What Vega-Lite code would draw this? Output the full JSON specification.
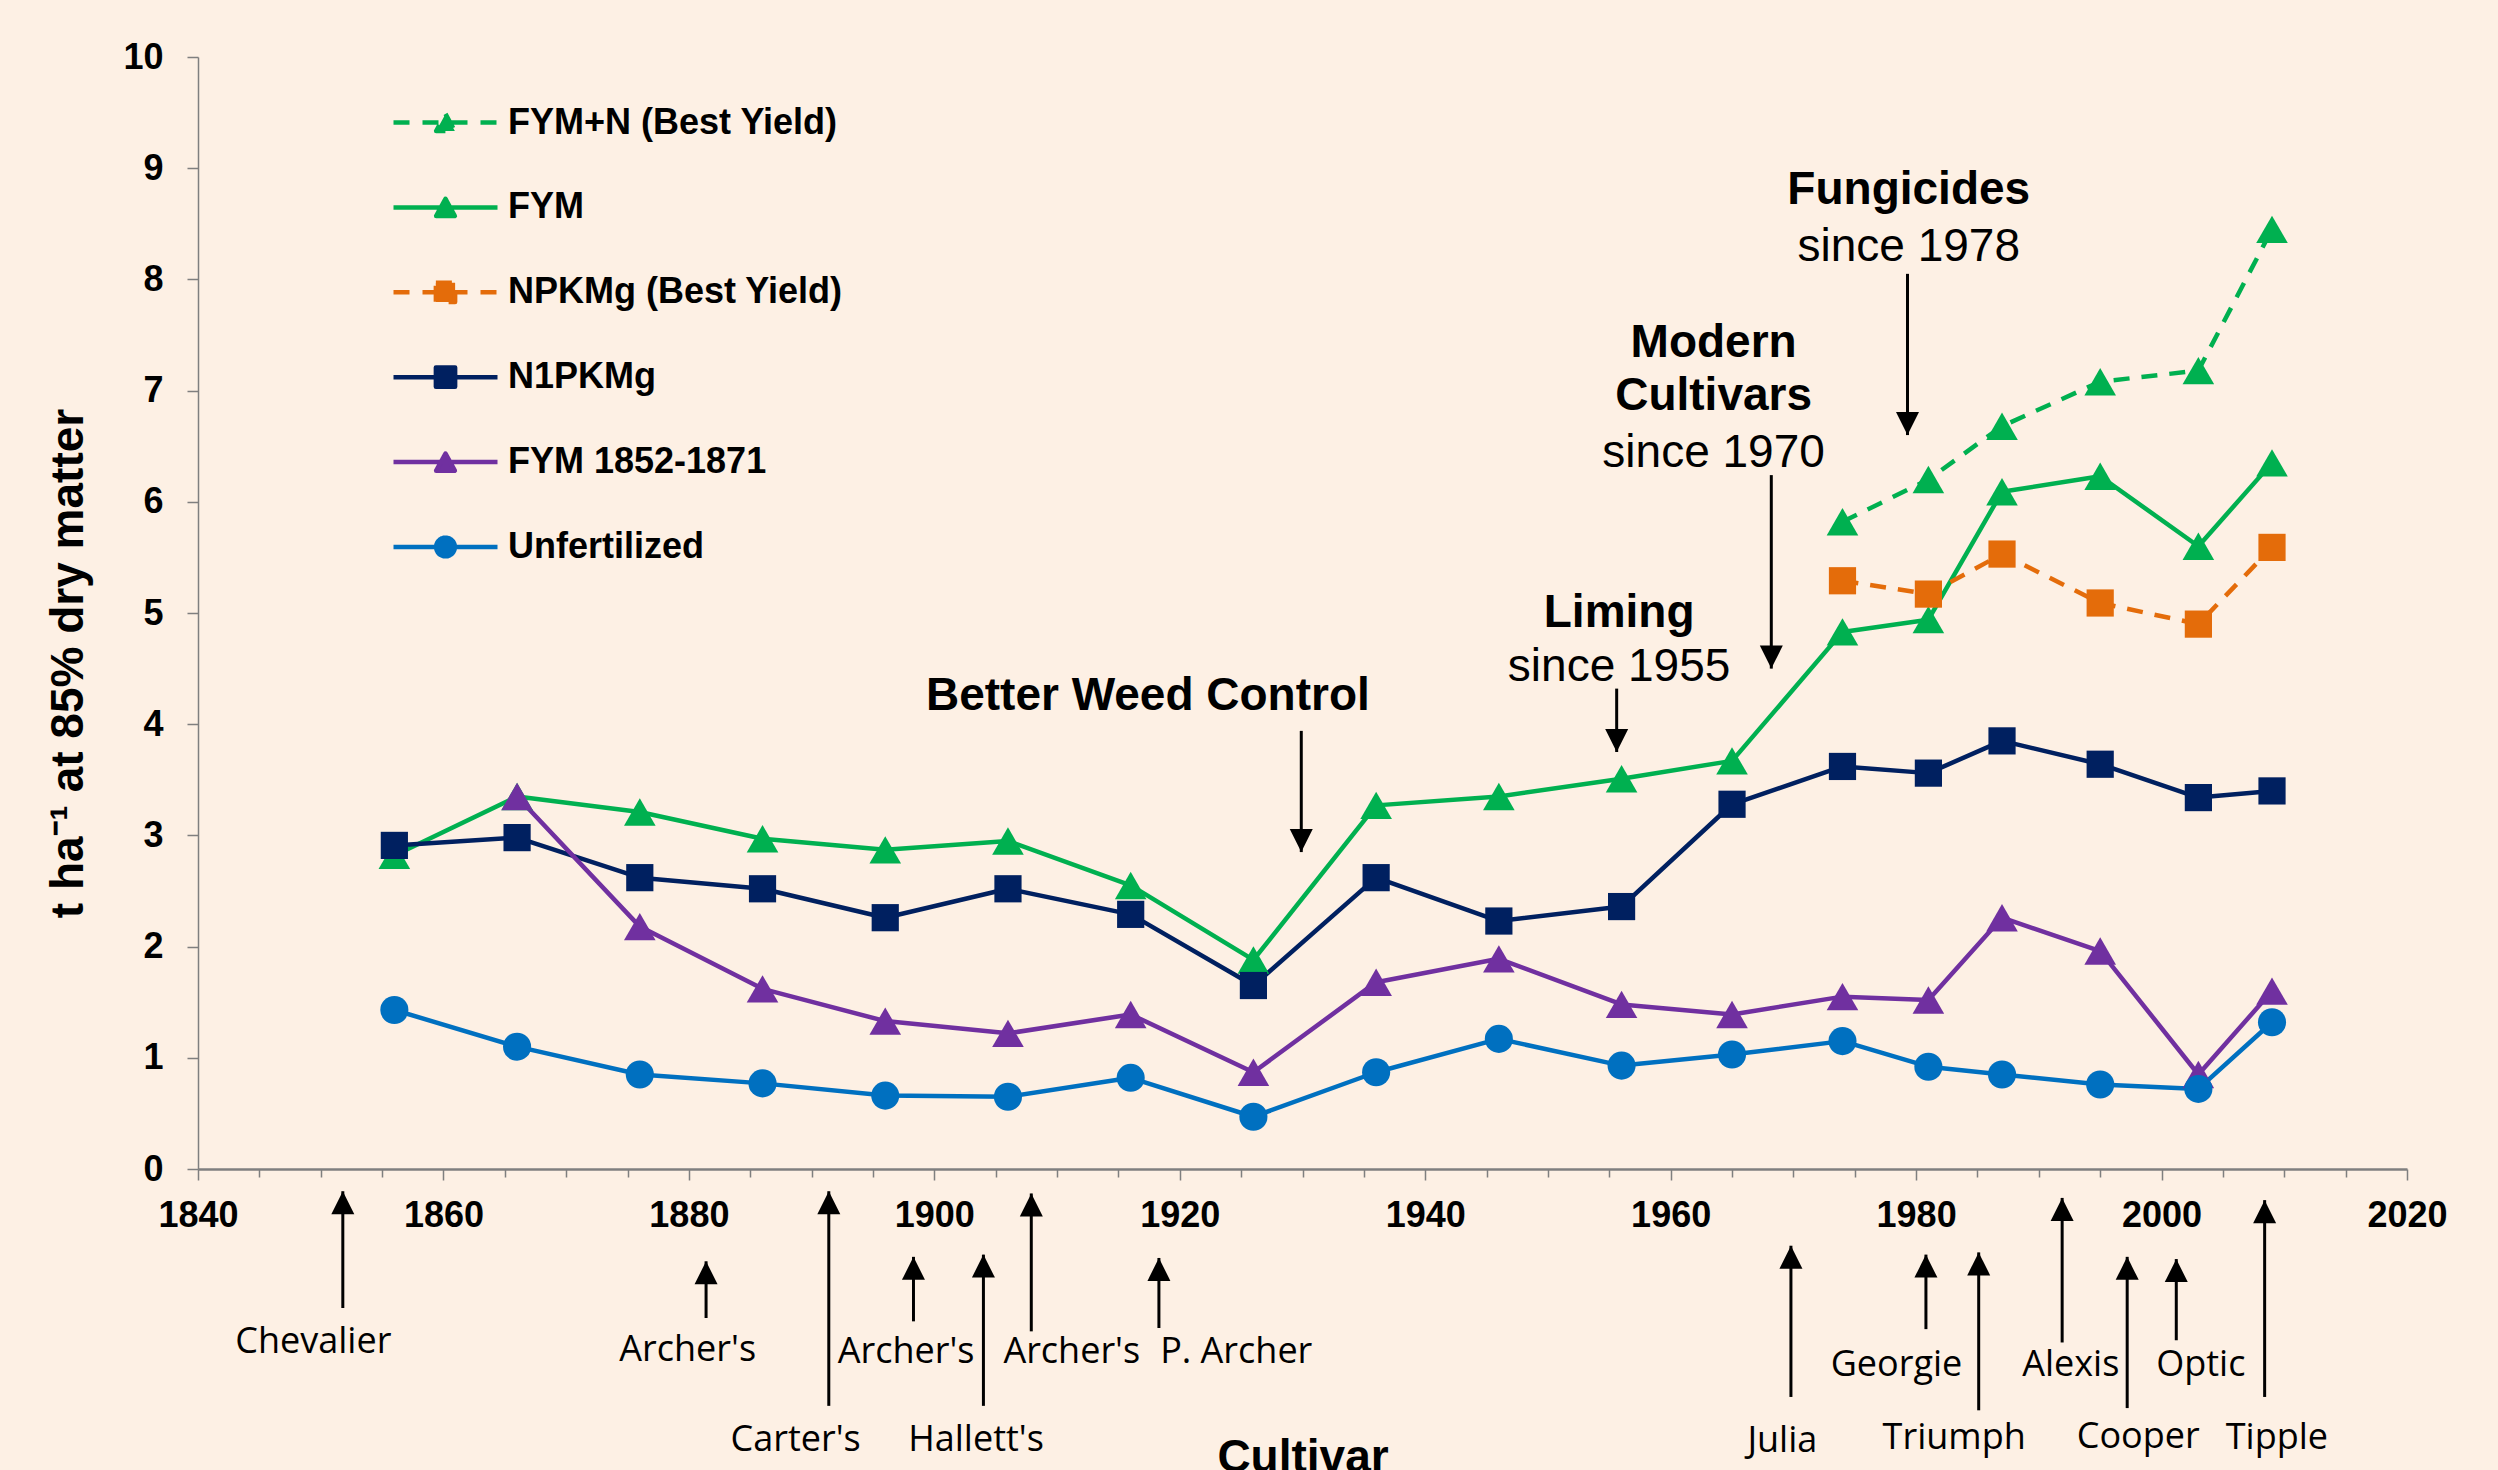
{
  "$schema": "https://vega.github.io/schema/vega-lite/v6.json",
  "width": 2209,
  "height": 1112,
  "autosize": {"type": "none"},
  "padding": {"left": 198, "top": 57, "right": 91, "bottom": 301},
  "background": "#FDF0E4",
  "config": {"view": {"stroke": null}, "font": "Liberation Sans"},
  "datasets": {
    "yields": [
      {"series": "FYM+N (Best Yield)", "year": 1974, "value": 5.82},
      {"series": "FYM+N (Best Yield)", "year": 1981, "value": 6.20},
      {"series": "FYM+N (Best Yield)", "year": 1987, "value": 6.68},
      {"series": "FYM+N (Best Yield)", "year": 1995, "value": 7.08},
      {"series": "FYM+N (Best Yield)", "year": 2003, "value": 7.18},
      {"series": "FYM+N (Best Yield)", "year": 2009, "value": 8.45},
      {"series": "FYM", "year": 1856, "value": 2.82},
      {"series": "FYM", "year": 1866, "value": 3.35},
      {"series": "FYM", "year": 1876, "value": 3.21},
      {"series": "FYM", "year": 1886, "value": 2.97},
      {"series": "FYM", "year": 1896, "value": 2.87},
      {"series": "FYM", "year": 1906, "value": 2.95},
      {"series": "FYM", "year": 1916, "value": 2.55},
      {"series": "FYM", "year": 1926, "value": 1.88},
      {"series": "FYM", "year": 1936, "value": 3.27},
      {"series": "FYM", "year": 1946, "value": 3.35},
      {"series": "FYM", "year": 1956, "value": 3.51},
      {"series": "FYM", "year": 1965, "value": 3.67},
      {"series": "FYM", "year": 1974, "value": 4.83},
      {"series": "FYM", "year": 1981, "value": 4.94},
      {"series": "FYM", "year": 1987, "value": 6.09},
      {"series": "FYM", "year": 1995, "value": 6.23},
      {"series": "FYM", "year": 2003, "value": 5.60},
      {"series": "FYM", "year": 2009, "value": 6.35},
      {"series": "NPKMg (Best Yield)", "year": 1974, "value": 5.29},
      {"series": "NPKMg (Best Yield)", "year": 1981, "value": 5.17},
      {"series": "NPKMg (Best Yield)", "year": 1987, "value": 5.53},
      {"series": "NPKMg (Best Yield)", "year": 1995, "value": 5.09},
      {"series": "NPKMg (Best Yield)", "year": 2003, "value": 4.90},
      {"series": "NPKMg (Best Yield)", "year": 2009, "value": 5.59},
      {"series": "N1PKMg", "year": 1856, "value": 2.91},
      {"series": "N1PKMg", "year": 1866, "value": 2.98},
      {"series": "N1PKMg", "year": 1876, "value": 2.62},
      {"series": "N1PKMg", "year": 1886, "value": 2.52},
      {"series": "N1PKMg", "year": 1896, "value": 2.26},
      {"series": "N1PKMg", "year": 1906, "value": 2.52},
      {"series": "N1PKMg", "year": 1916, "value": 2.29},
      {"series": "N1PKMg", "year": 1926, "value": 1.65},
      {"series": "N1PKMg", "year": 1936, "value": 2.62},
      {"series": "N1PKMg", "year": 1946, "value": 2.23},
      {"series": "N1PKMg", "year": 1956, "value": 2.36},
      {"series": "N1PKMg", "year": 1965, "value": 3.28},
      {"series": "N1PKMg", "year": 1974, "value": 3.62},
      {"series": "N1PKMg", "year": 1981, "value": 3.56},
      {"series": "N1PKMg", "year": 1987, "value": 3.85},
      {"series": "N1PKMg", "year": 1995, "value": 3.64},
      {"series": "N1PKMg", "year": 2003, "value": 3.34},
      {"series": "N1PKMg", "year": 2009, "value": 3.40},
      {"series": "FYM 1852-1871", "year": 1866, "value": 3.35},
      {"series": "FYM 1852-1871", "year": 1876, "value": 2.18},
      {"series": "FYM 1852-1871", "year": 1886, "value": 1.62},
      {"series": "FYM 1852-1871", "year": 1896, "value": 1.33},
      {"series": "FYM 1852-1871", "year": 1906, "value": 1.22},
      {"series": "FYM 1852-1871", "year": 1916, "value": 1.39},
      {"series": "FYM 1852-1871", "year": 1926, "value": 0.87},
      {"series": "FYM 1852-1871", "year": 1936, "value": 1.68},
      {"series": "FYM 1852-1871", "year": 1946, "value": 1.89},
      {"series": "FYM 1852-1871", "year": 1956, "value": 1.48},
      {"series": "FYM 1852-1871", "year": 1965, "value": 1.39},
      {"series": "FYM 1852-1871", "year": 1974, "value": 1.55},
      {"series": "FYM 1852-1871", "year": 1981, "value": 1.52},
      {"series": "FYM 1852-1871", "year": 1987, "value": 2.26},
      {"series": "FYM 1852-1871", "year": 1995, "value": 1.96},
      {"series": "FYM 1852-1871", "year": 2003, "value": 0.85},
      {"series": "FYM 1852-1871", "year": 2009, "value": 1.60},
      {"series": "Unfertilized", "year": 1856, "value": 1.43},
      {"series": "Unfertilized", "year": 1866, "value": 1.10},
      {"series": "Unfertilized", "year": 1876, "value": 0.85},
      {"series": "Unfertilized", "year": 1886, "value": 0.77},
      {"series": "Unfertilized", "year": 1896, "value": 0.66},
      {"series": "Unfertilized", "year": 1906, "value": 0.65},
      {"series": "Unfertilized", "year": 1916, "value": 0.82},
      {"series": "Unfertilized", "year": 1926, "value": 0.47},
      {"series": "Unfertilized", "year": 1936, "value": 0.87},
      {"series": "Unfertilized", "year": 1946, "value": 1.17},
      {"series": "Unfertilized", "year": 1956, "value": 0.93},
      {"series": "Unfertilized", "year": 1965, "value": 1.03},
      {"series": "Unfertilized", "year": 1974, "value": 1.15},
      {"series": "Unfertilized", "year": 1981, "value": 0.92},
      {"series": "Unfertilized", "year": 1987, "value": 0.85},
      {"series": "Unfertilized", "year": 1995, "value": 0.76},
      {"series": "Unfertilized", "year": 2003, "value": 0.72},
      {"series": "Unfertilized", "year": 2009, "value": 1.32}
    ],
    "headlines": [
      {"text": "Better Weed Control", "year": 1917.4, "value": 4.25},
      {"text": "Liming", "year": 1955.8, "value": 5.0},
      {"text": "Modern", "year": 1963.5, "value": 7.43},
      {"text": "Cultivars", "year": 1963.5, "value": 6.95},
      {"text": "Fungicides", "year": 1979.4, "value": 8.8}
    ],
    "sublines": [
      {"text": "since 1955", "year": 1955.8, "value": 4.51},
      {"text": "since 1970", "year": 1963.5, "value": 6.44},
      {"text": "since 1978", "year": 1979.4, "value": 8.29}
    ],
    "events": [
      {"year": 1929.9, "from": 3.94, "to": 2.85},
      {"year": 1955.6, "from": 4.32, "to": 3.75},
      {"year": 1968.2, "from": 6.24, "to": 4.5},
      {"year": 1979.3, "from": 8.05, "to": 6.6}
    ],
    "cultivars": [
      {"cultivar": "Chevalier", "year": 1851.8, "tip": -0.2, "tail": -1.25, "labelYear": 1849.4, "labelValue": -1.56},
      {"cultivar": "Archer's", "year": 1881.4, "tip": -0.83, "tail": -1.34, "labelYear": 1879.9, "labelValue": -1.63},
      {"cultivar": "Carter's", "year": 1891.4, "tip": -0.2, "tail": -2.13, "labelYear": 1888.7, "labelValue": -2.44},
      {"cultivar": "Archer's", "year": 1898.3, "tip": -0.79, "tail": -1.37, "labelYear": 1897.7, "labelValue": -1.65},
      {"cultivar": "Hallett's", "year": 1904.0, "tip": -0.77, "tail": -2.13, "labelYear": 1903.4, "labelValue": -2.44},
      {"cultivar": "Archer's", "year": 1907.9, "tip": -0.22, "tail": -1.46, "labelYear": 1911.2, "labelValue": -1.65},
      {"cultivar": "P. Archer", "year": 1918.3, "tip": -0.8, "tail": -1.43, "labelYear": 1924.6, "labelValue": -1.65},
      {"cultivar": "Julia", "year": 1969.8, "tip": -0.69, "tail": -2.05, "labelYear": 1969.1, "labelValue": -2.45},
      {"cultivar": "Georgie", "year": 1980.8, "tip": -0.77, "tail": -1.44, "labelYear": 1978.4, "labelValue": -1.76},
      {"cultivar": "Triumph", "year": 1985.1, "tip": -0.75, "tail": -2.17, "labelYear": 1983.1, "labelValue": -2.42},
      {"cultivar": "Alexis", "year": 1991.9, "tip": -0.26, "tail": -1.56, "labelYear": 1992.6, "labelValue": -1.76},
      {"cultivar": "Cooper", "year": 1997.2, "tip": -0.79, "tail": -2.15, "labelYear": 1998.1, "labelValue": -2.41},
      {"cultivar": "Optic", "year": 2001.2, "tip": -0.81, "tail": -1.54, "labelYear": 2003.2, "labelValue": -1.76},
      {"cultivar": "Tipple", "year": 2008.4, "tip": -0.28, "tail": -2.05, "labelYear": 2009.4, "labelValue": -2.42}
    ]
  },
  "layer": [
    {
      "data": {"name": "yields"},
      "encoding": {
        "x": {
          "field": "year", "type": "quantitative",
          "scale": {"domain": [1840, 2020], "nice": false, "zero": false},
          "axis": {
            "values": [1840,1845,1850,1855,1860,1865,1870,1875,1880,1885,1890,1895,1900,1905,1910,1915,1920,1925,1930,1935,1940,1945,1950,1955,1960,1965,1970,1975,1980,1985,1990,1995,2000,2005,2010,2015,2020],
            "format": "d",
            "labelExpr": "datum.value % 20 === 0 ? datum.label : ''",
            "labelFont": "Liberation Sans", "labelFontWeight": "bold", "labelFontSize": 36, "labelColor": "#000000",
            "labelPadding": 18, "labelOverlap": false, "labelFlush": false, "labelBound": false,
            "tickSize": {"condition": {"test": "datum.value % 20 === 0", "value": 11}, "value": 8},
            "tickColor": "#7f7f7f", "tickWidth": 1.5,
            "domainColor": "#7f7f7f", "domainWidth": 2.5,
            "grid": false,
            "title": "Cultivar",
            "titleFont": "Liberation Sans", "titleFontWeight": "bold", "titleFontSize": 46, "titleColor": "#000000",
            "titleY": 302, "titleBaseline": "alphabetic"
          }
        },
        "y": {
          "field": "value", "type": "quantitative",
          "scale": {"domain": [0, 10], "nice": false, "zero": true},
          "axis": {
            "values": [0,1,2,3,4,5,6,7,8,9,10],
            "format": "d",
            "labelFont": "Liberation Sans", "labelFontWeight": "bold", "labelFontSize": 36, "labelColor": "#000000",
            "labelPadding": 24,
            "tickSize": 11, "tickColor": "#7f7f7f", "tickWidth": 1.5,
            "domainColor": "#7f7f7f", "domainWidth": 1.5,
            "grid": false,
            "title": "t ha⁻¹ at 85% dry matter",
            "titleFont": "Liberation Sans", "titleFontWeight": "bold", "titleFontSize": 46, "titleColor": "#000000",
            "titleAngle": -90, "titleX": -116, "titleY": 606, "titleBaseline": "alphabetic", "titleAlign": "center"
          }
        },
        "color": {
          "field": "series", "type": "nominal",
          "scale": {
            "domain": ["FYM+N (Best Yield)", "FYM", "NPKMg (Best Yield)", "N1PKMg", "FYM 1852-1871", "Unfertilized"],
            "range": ["#00B050", "#00B050", "#E46C0A", "#002060", "#7030A0", "#0070C0"]
          },
          "legend": {
            "orient": "none", "legendX": 219, "legendY": 37, "title": null, "padding": 0,
            "labelFont": "Liberation Sans", "labelFontWeight": "bold", "labelFontSize": 36, "labelColor": "#000000",
            "labelLimit": 0, "labelOffset": 34,
            "symbolSize": 2704, "symbolStrokeWidth": 4.5, "symbolOffset": 0, "rowPadding": 37.9,
            "encode": {
              "symbols": {
                "update": {
                  "shape": {"signal": "datum.value === 'Unfertilized' ? 'M-2,0H2M0.36,0A0.36,0.36,0,1,1,-0.36,0A0.36,0.36,0,1,1,0.36,0Z' : ((datum.value === 'N1PKMg' || datum.value === 'NPKMg (Best Yield)') ? 'M-2,0H2M-0.37,-0.37H0.37V0.37H-0.37Z' : 'M-2,0H2M0,-0.33L0.36,0.33L-0.36,0.33Z')"},
                  "size": {"value": 2704},
                  "stroke": {"scale": "color", "field": "value"},
                  "fill": {"scale": "color", "field": "value"},
                  "strokeDash": {"signal": "(datum.value === 'FYM+N (Best Yield)' || datum.value === 'NPKMg (Best Yield)') ? [16, 13] : [1, 0]"},
                  "strokeWidth": {"value": 4.5},
                  "strokeJoin": {"value": "round"},
                  "opacity": {"value": 1},
                  "fillOpacity": {"value": 1},
                  "strokeOpacity": {"value": 1}
                }
              }
            }
          }
        }
      },
      "layer": [
        {
          "transform": [{"filter": {"field": "series", "oneOf": ["FYM", "N1PKMg", "FYM 1852-1871", "Unfertilized"]}}],
          "mark": {"type": "line", "strokeWidth": 4.5, "strokeJoin": "round"},
          "encoding": {}
        },
        {
          "transform": [{"filter": {"field": "series", "oneOf": ["FYM+N (Best Yield)", "NPKMg (Best Yield)"]}}],
          "mark": {"type": "line", "strokeWidth": 4.5, "strokeJoin": "round", "strokeDash": [16, 12]},
          "encoding": {}
        },
        {
          "transform": [{"filter": {"field": "series", "oneOf": ["FYM+N (Best Yield)", "FYM", "FYM 1852-1871"]}}],
          "mark": {"type": "point", "shape": "triangle-up", "size": 1000, "filled": true, "opacity": 1, "strokeWidth": 0},
          "encoding": {}
        },
        {
          "transform": [{"filter": {"field": "series", "oneOf": ["NPKMg (Best Yield)", "N1PKMg"]}}],
          "mark": {"type": "point", "shape": "square", "size": 740, "filled": true, "opacity": 1, "strokeWidth": 0},
          "encoding": {}
        },
        {
          "transform": [{"filter": {"field": "series", "equal": "Unfertilized"}}],
          "mark": {"type": "point", "shape": "circle", "size": 790, "filled": true, "opacity": 1, "strokeWidth": 0},
          "encoding": {}
        }
      ]
    },
    {
      "data": {"name": "events"},
      "mark": {"type": "rule", "strokeWidth": 3, "color": "#000000"},
      "encoding": {
        "x": {"field": "year", "type": "quantitative", "scale": {"domain": [1840, 2020]}},
        "y": {"field": "from", "type": "quantitative", "scale": {"domain": [0, 10]}},
        "y2": {"field": "to"}
      }
    },
    {
      "data": {"name": "events"},
      "mark": {"type": "point", "shape": "M0,0L-0.5,-1L0.5,-1Z", "size": 2116, "filled": true, "opacity": 1, "color": "#000000", "strokeWidth": 0},
      "encoding": {
        "x": {"field": "year", "type": "quantitative", "scale": {"domain": [1840, 2020]}},
        "y": {"field": "to", "type": "quantitative", "scale": {"domain": [0, 10]}}
      }
    },
    {
      "data": {"name": "headlines"},
      "mark": {"type": "text", "font": "Liberation Sans", "fontWeight": "bold", "fontSize": 46, "color": "#000000", "align": "center", "baseline": "middle"},
      "encoding": {
        "x": {"field": "year", "type": "quantitative", "scale": {"domain": [1840, 2020]}},
        "y": {"field": "value", "type": "quantitative", "scale": {"domain": [0, 10]}},
        "text": {"field": "text"}
      }
    },
    {
      "data": {"name": "sublines"},
      "mark": {"type": "text", "font": "Liberation Sans", "fontWeight": "normal", "fontSize": 46, "color": "#000000", "align": "center", "baseline": "middle"},
      "encoding": {
        "x": {"field": "year", "type": "quantitative", "scale": {"domain": [1840, 2020]}},
        "y": {"field": "value", "type": "quantitative", "scale": {"domain": [0, 10]}},
        "text": {"field": "text"}
      }
    },
    {
      "data": {"name": "cultivars"},
      "mark": {"type": "rule", "strokeWidth": 3, "color": "#000000"},
      "encoding": {
        "x": {"field": "year", "type": "quantitative", "scale": {"domain": [1840, 2020]}},
        "y": {"field": "tail", "type": "quantitative", "scale": {"domain": [0, 10]}},
        "y2": {"field": "tip"}
      }
    },
    {
      "data": {"name": "cultivars"},
      "mark": {"type": "point", "shape": "M0,0L-0.5,1L0.5,1Z", "size": 2116, "filled": true, "opacity": 1, "color": "#000000", "strokeWidth": 0},
      "encoding": {
        "x": {"field": "year", "type": "quantitative", "scale": {"domain": [1840, 2020]}},
        "y": {"field": "tip", "type": "quantitative", "scale": {"domain": [0, 10]}}
      }
    },
    {
      "data": {"name": "cultivars"},
      "mark": {"type": "text", "font": "Open Sans", "fontSize": 36, "color": "#000000", "align": "center", "baseline": "middle"},
      "encoding": {
        "x": {"field": "labelYear", "type": "quantitative", "scale": {"domain": [1840, 2020]}},
        "y": {"field": "labelValue", "type": "quantitative", "scale": {"domain": [0, 10]}},
        "text": {"field": "cultivar"}
      }
    }
  ]
}
